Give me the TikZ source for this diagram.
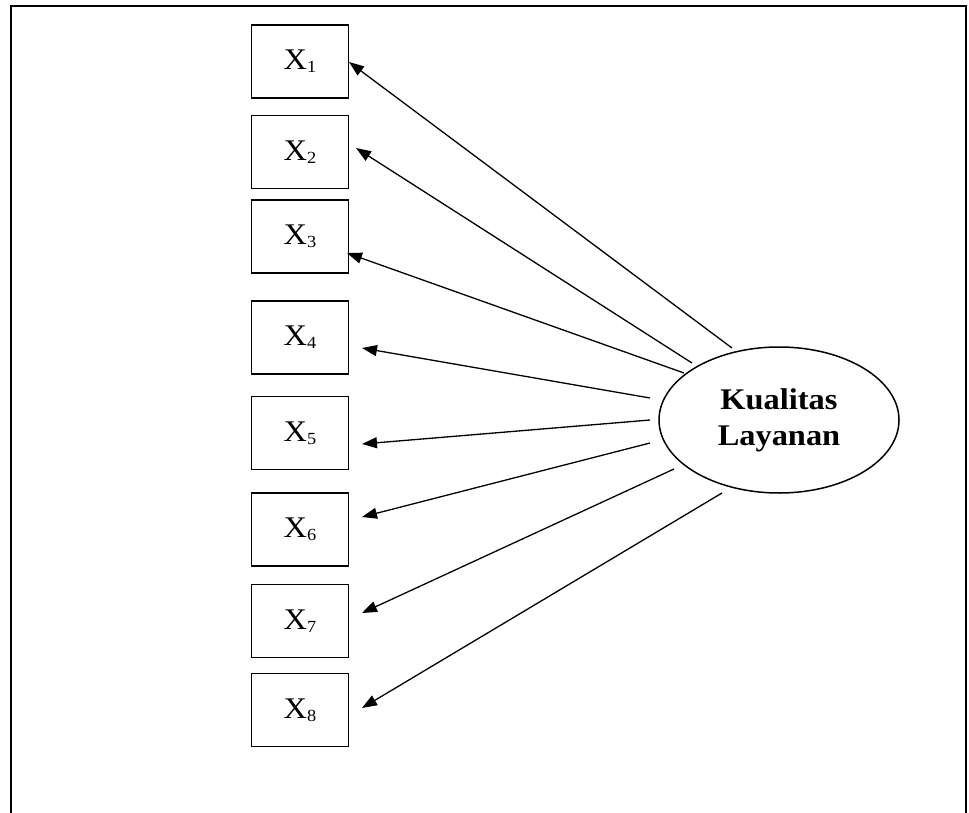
\documentclass[tikz,border=0pt]{standalone}
\usepackage{fontspec}
\setmainfont{Liberation Serif}
\usetikzlibrary{arrows.meta,shapes.geometric}
% text is set slightly widened
\newcommand{\wide}[1]{\scalebox{1.08}[1]{#1}}
\newcommand{\ind}[1]{\wide{X\raisebox{-3pt}{\fontsize{17}{17}\selectfont #1}}}
\begin{document}
\begin{tikzpicture}[x=1pt,y=-1pt,
  indicator/.style={draw,line width=1.5pt,minimum width=97pt,minimum height=73pt,
    inner sep=0pt,font=\fontsize{30}{34}\selectfont},
  construct/.style={draw,ellipse,line width=1.5pt,minimum width=240pt,minimum height=146pt,
    inner sep=0pt,align=center,font=\fontsize{30}{36}\selectfont\bfseries},
  loading/.style={line width=1.3pt,-{Triangle[length=15pt,width=11pt]}}]
\useasboundingbox (0,0) rectangle (969,813);
% outer frame, open at the bottom
\draw[line width=2.5pt] (11,813) -- (11,6) -- (966,6) -- (966,813);
% indicator boxes
\node[indicator] (x1) at (300,61.5) {\ind{1}};
\node[indicator] (x2) at (300,152) {\ind{2}};
\node[indicator] (x3) at (300,236.5) {\ind{3}};
\node[indicator] (x4) at (300,337.5) {\ind{4}};
\node[indicator] (x5) at (300,433) {\ind{5}};
\node[indicator] (x6) at (300,529.5) {\ind{6}};
\node[indicator] (x7) at (300,621) {\ind{7}};
\node[indicator] (x8) at (300,710) {\ind{8}};
% latent construct
\node[construct] (kl) at (779,420) {\wide{Kualitas}\\\wide{Layanan}};
% loading paths: start near the ellipse, tip just right of each box
\coordinate (s1) at (732,348); \coordinate (t1) at (349,62);
\coordinate (s2) at (692,363); \coordinate (t2) at (356,148);
\coordinate (s3) at (684,373); \coordinate (t3) at (347,253);
\coordinate (s4) at (650,398); \coordinate (t4) at (362,348);
\coordinate (s5) at (650,420); \coordinate (t5) at (362,444);
\coordinate (s6) at (650,443); \coordinate (t6) at (362,517);
\coordinate (s7) at (674,469); \coordinate (t7) at (362,613);
\coordinate (s8) at (722,493); \coordinate (t8) at (362,708);
\foreach \i in {1,...,8} \draw[loading] (s\i) -- (t\i);
\end{tikzpicture}
\end{document}
